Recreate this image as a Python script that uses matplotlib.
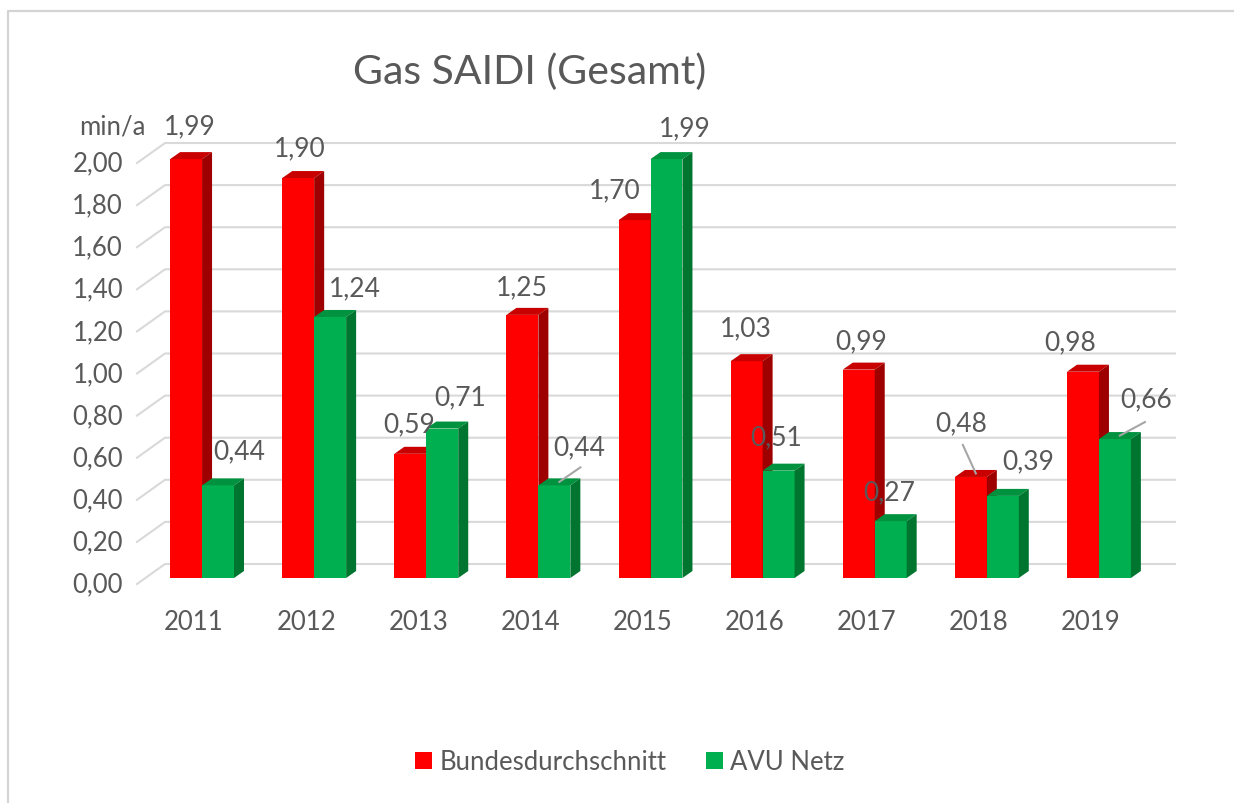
import numpy as np
import matplotlib
matplotlib.use("Agg")
import matplotlib.pyplot as plt
from matplotlib.patches import Polygon
from matplotlib.lines import Line2D
from matplotlib.transforms import IdentityTransform

# ---------------- data ----------------
years = ["2011", "2012", "2013", "2014", "2015", "2016", "2017", "2018", "2019"]
bundesdurchschnitt = [1.99, 1.90, 0.59, 1.25, 1.70, 1.03, 0.99, 0.48, 0.98]
avu_netz = [0.44, 1.24, 0.71, 0.44, 1.99, 0.51, 0.27, 0.39, 0.66]
y_ticks = [0.0, 0.2, 0.4, 0.6, 0.8, 1.0, 1.2, 1.4, 1.6, 1.8, 2.0]
series_names = ["Bundesdurchschnitt", "AVU Netz"]
title = "Gas SAIDI (Gesamt)"
unit = "min/a"

# label offsets (pixels, image orientation: +x right, +y down) relative to bar top centre
red_label_off = [(4, -33), (2, -30), (-1, -30), (-1, -28), (-20, -30), (-1, -33), (2, -29), (-10, -54), (-13, -30)]
green_label_off = [(21, -35), (25, -29), (18, -32), (25, -39), (18, -31), (-2, -34), (-2, -29), (25, -35), (31, -40)]
# leader lines: (series, index) -> start point offset relative to bar top centre
leaders = {("red", 7): (-8, -32), ("green", 3): (26, -18), ("green", 8): (30, -17)}

# ---------------- style ----------------
W, H = 1234, 804
TXT = "#595959"
GRID = "#D9D9D9"
RED, RED_TOP, RED_SIDE = "#FF0000", "#C80000", "#9E0000"
GRN, GRN_TOP, GRN_SIDE = "#00B050", "#00923F", "#007530"
DX, DY = 10, 7          # bar depth in pixels
WALL_DX, WALL_DY = 28, 20
FRONT_DX, FRONT_DY = -9, -6
FS = 18.5

plt.rcParams["font.family"] = ["Lato", "DejaVu Sans"]

fig = plt.figure(figsize=(W / 100, H / 100), dpi=100)
ax = fig.add_axes([146 / W, 225 / H, 1009 / W, 421 / H])
ax.set_xlim(-0.5, 8.5)
ax.set_ylim(0, 2.0)
ax.axis("off")

x = np.arange(len(years))
w = 0.285
red_bars = ax.bar(x - w / 2, bundesdurchschnitt, w, color=RED, zorder=3, label=series_names[0])
grn_bars = ax.bar(x + w / 2, avu_netz, w, color=GRN, zorder=5, label=series_names[1])

ident = IdentityTransform()


def add_depth(rect, top_c, side_c, z):
    x0, y0 = rect.get_x(), rect.get_y()
    x1, y1 = x0 + rect.get_width(), y0 + rect.get_height()
    (px0, py0), (px1, py1) = ax.transData.transform([(x0, y0), (x1, y1)])
    top = [(px0, py1), (px1, py1), (px1 + DX, py1 + DY), (px0 + DX, py1 + DY)]
    side = [(px1, py0), (px1 + DX, py0 + DY), (px1 + DX, py1 + DY), (px1, py1)]
    ax.add_patch(Polygon(top, closed=True, facecolor=top_c, edgecolor="none",
                         transform=ident, clip_on=False, zorder=z))
    ax.add_patch(Polygon(side, closed=True, facecolor=side_c, edgecolor="none",
                         transform=ident, clip_on=False, zorder=z))
    return (px0 + px1) / 2, py1


red_tops = [add_depth(r, RED_TOP, RED_SIDE, 3.5) for r in red_bars]
grn_tops = [add_depth(r, GRN_TOP, GRN_SIDE, 5.5) for r in grn_bars]

# gridlines (back wall + side wall diagonal)
left_px = ax.transData.transform((-0.5, 0))[0]
for t in y_ticks:
    by = ax.transData.transform((0, t))[1]
    fx, fy = left_px + FRONT_DX, by + FRONT_DY
    bx, byy = fx + WALL_DX, fy + WALL_DY
    ax.add_line(Line2D([fx, bx, 1175], [fy, byy, byy], color=GRID, lw=1.5,
                       transform=ident, clip_on=False, zorder=1))
    fig.text(123 / W, fy / H, f"{t:.2f}".replace(".", ","), ha="right", va="center",
             fontsize=FS, color=TXT)

# category labels (front plane)
for i, yr in enumerate(years):
    cx = ax.transData.transform((x[i], 0))[0] + FRONT_DX + 1
    fig.text(cx / W, 1 - 623 / H, yr, ha="center", va="center", fontsize=FS, color=TXT)

# data labels
for name, vals, tops, offs in (("red", bundesdurchschnitt, red_tops, red_label_off),
                               ("green", avu_netz, grn_tops, green_label_off)):
    for i, v in enumerate(vals):
        cx, cy = tops[i]
        ox, oy = offs[i]
        fig.text((cx + ox) / W, (cy - oy) / H, f"{v:.2f}".replace(".", ","),
                 ha="center", va="center", fontsize=19, color=TXT, zorder=10)
        if (name, i) in leaders:
            sx, sy = leaders[(name, i)]
            ax.add_line(Line2D([cx + sx, cx + DX / 2], [cy - sy, cy + DY / 2], color="#A6A6A6",
                               lw=1.5, transform=ident, clip_on=False, zorder=9))

fig.text(530 / W, 1 - 72 / H, title, ha="center", va="center", fontsize=29.5, color=TXT)
fig.text(112 / W, 1 - 127 / H, unit, ha="center", va="center", fontsize=FS, color=TXT)

fig.legend(handles=[red_bars, grn_bars], loc="center", bbox_to_anchor=(630 / W, 1 - 763 / H),
           ncol=2, frameon=False, fontsize=FS, handlelength=0.66, handleheight=0.66,
           handletextpad=0.3, columnspacing=1.5, labelcolor=TXT)

# outer border (top and left visible)
fig.add_artist(Line2D([8, 8, W], [0, H - 12, H - 12], color="#D4D4D4", lw=1.6, transform=ident))

fig.savefig("out.png", dpi=100)
